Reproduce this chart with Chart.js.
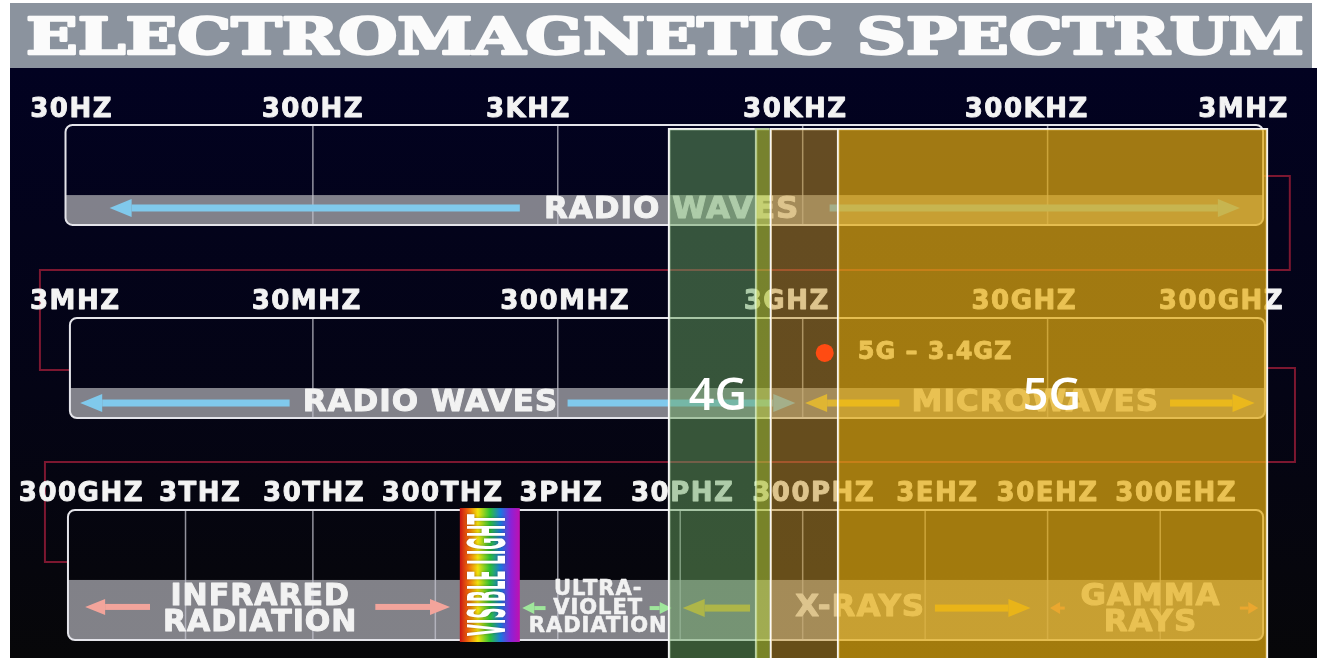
<!DOCTYPE html>
<html>
<head>
<meta charset="utf-8">
<title>Electromagnetic Spectrum</title>
<script src="https://cdn.jsdelivr.net/npm/chart.js@4.4.1/dist/chart.umd.min.js"></script>
<style>
    html, body { margin: 0; padding: 0; background: #ffffff; }
    canvas { display: block; }
</style>
</head>
<body>
<canvas id="spectrumChart" width="1317" height="658"></canvas>
<script>
// x axis unit = one "column" of the drawing: one decade on the bottom row, two decades on the radio rows
const row1Ticks = ['30HZ', '300HZ', '3KHZ', '30KHZ', '300KHZ', '3MHZ'];
const row1TickPos = [0.03, 2.0, 3.76, 5.94, 7.83, 9.6];
const row1Lines = [2, 4, 6, 8];

const row2Ticks = ['3MHZ', '30MHZ', '300MHZ', '3GHZ', '30GHZ', '300GHZ'];
const row2TickPos = [0.06, 1.95, 4.06, 5.87, 7.81, 9.42];
const row2Lines = [2, 4, 6, 8];

const row3Ticks = ['300GHZ', '3THZ', '30THZ', '300THZ', '3PHZ', '30PHZ', '300PHZ', '3EHZ', '30EHZ', '300EHZ'];
const row3TickPos = [0.11, 1.08, 2.01, 3.06, 4.03, 5.02, 6.09, 7.1, 8.0, 9.05];
const row3Lines = [0.96, 2, 3, 4, 5, 6, 7, 8, 8.92];

// mobile network bands laid over the spectrum
const bandNames = ['4G', '4G/5G', '5G low', '5G'];
const bandStart = [4.9, 5.61, 5.73, 6.28];
const bandEnd = [5.61, 5.73, 6.28, 9.8];

const markerLabel = '5G – 3.4GZ';
const markerX = [6.18];
const markerY = [1.167];

const TITLE = 'ELECTROMAGNETIC SPECTRUM';

// picture frame (pixels)
const FRAME = { left: 10, top: 3, titleBottom: 68, titleRight: 1312, titleBase: 54, titleCenter: 665, titleWidth: 1278 };

// row geometry, in scale units (y: row units, reversed)
const rows = [
    { ticks: row1Ticks, pos: row1TickPos, lines: row1Lines, left: -0.02, right: 9.76, labelY: -0.092, top: -0.016, bandTop: 0.348, bottom: 0.503 },
    { ticks: row2Ticks, pos: row2TickPos, lines: row2Lines, left: 0.016, right: 9.775, labelY: 0.906, top: 0.986, bandTop: 1.349, bottom: 1.505 },
    { ticks: row3Ticks, pos: row3TickPos, lines: row3Lines, left: 0, right: 9.76, labelY: 1.899, top: 1.982, bandTop: 2.345, bottom: 2.657 }
];

const regions = [
    { text: ['RADIO WAVES'], x: 4.93, ys: [0.4255], size: 31, color: '#80c9ec', ay: 0.415, arrows: [[3.69, 0.34], [6.22, 9.57]], shaft: 7, head: 22, half: 9 },
    { text: ['RADIO WAVES'], x: 2.96, ys: [1.427], size: 31, color: '#80c9ec', ay: 1.427, arrows: [[1.81, 0.1], [4.08, 5.94]], shaft: 7, head: 22, half: 9 },
    { text: ['MICROWAVES'], x: 7.9, ys: [1.427], size: 31, color: '#f6d43c', ay: 1.427, arrows: [[6.79, 6.02], [9.0, 9.69]], shaft: 7, head: 22, half: 9 },
    { text: ['INFRARED', 'RADIATION'], x: 1.57, ys: [2.433, 2.568], size: 30, color: '#f2a49b', ay: 2.485, arrows: [[0.67, 0.14], [2.51, 3.12]], shaft: 6, head: 20, half: 8 },
    { text: ['ULTRA-', 'VIOLET', 'RADIATION'], x: 4.33, ys: [2.397, 2.491, 2.589], size: 21, color: '#9fe79b', ay: 2.491, arrows: [[3.9, 3.71], [4.75, 4.93]], shaft: 4, head: 12, half: 6 },
    { text: ['X-RAYS'], x: 6.47, ys: [2.491], size: 31, color: '#f2c630', ay: 2.491, arrows: [[5.57, 5.02], [7.08, 7.86]], shaft: 7, head: 22, half: 9 },
    { text: ['GAMMA', 'RAYS'], x: 8.84, ys: [2.433, 2.568], size: 31, color: '#f49a7e', ay: 2.491, arrows: [[8.14, 8.02], [9.57, 9.72]], shaft: 3, head: 10, half: 6 }
];

const visible = { text: 'VISIBLE LIGHT', from: 3.2, to: 3.69 };

const connectors = [
    [[9.76, 0.249], [9.978, 0.249], [9.978, 0.737], [-0.229, 0.737], [-0.229, 1.256], [0.016, 1.256]],
    [[9.775, 1.245], [10.02, 1.245], [10.02, 1.733], [-0.188, 1.733], [-0.188, 2.252], [0, 2.252]]
];

const bandColors = ['rgba(105,165,95,0.5)', 'rgba(175,192,55,0.68)', 'rgba(200,150,40,0.5)', 'rgba(230,172,14,0.7)'];
const bandBorders = ['rgba(255,255,255,0.95)', 'rgba(215,240,190,0.85)', 'rgba(255,255,255,0.95)', 'rgba(255,255,255,0.95)'];
const bandBorderWidths = [
    { top: 2, left: 2, right: 0, bottom: 0 },
    { top: 2, left: 2, right: 0, bottom: 0 },
    { top: 2, left: 2, right: 0, bottom: 0 },
    { top: 2, left: 2, right: 2, bottom: 0 }
];
const bandLabelPos = [{ x: 5.308, y: 1.396 }, null, null, { x: 8.035, y: 1.396 }];

// text with a thin outline in the same colour, the original lettering is heavier than DejaVu Bold
function drawText(ctx, str, x, y, font, color, align = 'center', spacing = '0px', weight = 0) {
    ctx.font = font;
    ctx.fillStyle = color;
    ctx.textAlign = align;
    ctx.textBaseline = 'middle';
    ctx.letterSpacing = spacing;
    if (weight) {
        ctx.strokeStyle = color;
        ctx.lineWidth = weight;
        ctx.lineJoin = 'round';
        ctx.strokeText(str, x, y);
    }
    ctx.fillText(str, x, y);
    ctx.letterSpacing = '0px';
}

function drawArrow(ctx, x1, x2, y, color, shaft, head, half) {
    const dir = Math.sign(x2 - x1);
    const neck = x2 - dir * head;
    ctx.fillStyle = color;
    ctx.fillRect(Math.min(x1, neck), y - shaft / 2, Math.abs(neck - x1), shaft);
    ctx.beginPath();
    ctx.moveTo(x2, y);
    ctx.lineTo(neck, y - half);
    ctx.lineTo(neck, y + half);
    ctx.closePath();
    ctx.fill();
}

const spectrumArt = {
    id: 'spectrumArt',
    beforeDatasetsDraw(chart) {
        const ctx = chart.ctx;
        const X = v => chart.scales.x.getPixelForValue(v);
        const Y = v => chart.scales.y.getPixelForValue(v);
        const W = chart.width, H = chart.height;
        ctx.save();

        // dark field and grey title band
        const bg = ctx.createLinearGradient(0, FRAME.titleBottom, 0, H);
        bg.addColorStop(0, '#020221');
        bg.addColorStop(0.55, '#040415');
        bg.addColorStop(1, '#070709');
        ctx.fillStyle = bg;
        ctx.fillRect(FRAME.left, FRAME.titleBottom, W - FRAME.left, H - FRAME.titleBottom);
        ctx.fillStyle = '#8b939e';
        ctx.fillRect(FRAME.left, FRAME.top, FRAME.titleRight - FRAME.left, FRAME.titleBottom - FRAME.top);

        ctx.save();
        ctx.font = 'bold 50px "DejaVu Serif"';
        const tw = ctx.measureText(TITLE).width;
        ctx.translate(FRAME.titleCenter, FRAME.titleBase);
        ctx.scale(FRAME.titleWidth / tw, 1);
        ctx.textAlign = 'center';
        ctx.textBaseline = 'alphabetic';
        ctx.fillStyle = '#fbfbfb';
        ctx.strokeStyle = '#fbfbfb';
        ctx.lineWidth = 2.5;
        ctx.lineJoin = 'round';
        ctx.strokeText(TITLE, 0, 0);
        ctx.fillText(TITLE, 0, 0);
        ctx.restore();

        // red links between the rows
        ctx.strokeStyle = '#7c1730';
        ctx.lineWidth = 2;
        connectors.forEach(path => {
            ctx.beginPath();
            path.forEach(([px, py], i) => i ? ctx.lineTo(X(px), Y(py)) : ctx.moveTo(X(px), Y(py)));
            ctx.stroke();
        });

        // rows
        rows.forEach(r => {
            const l = X(r.left), rt = X(r.right), t = Y(r.top), b = Y(r.bottom), bt = Y(r.bandTop);
            ctx.save();
            ctx.beginPath();
            ctx.roundRect(l, t, rt - l, b - t, 7);
            ctx.clip();
            ctx.fillStyle = 'rgba(150,150,157,0.86)';
            ctx.fillRect(l, bt, rt - l, b - bt);
            ctx.strokeStyle = 'rgba(195,195,205,0.75)';
            ctx.lineWidth = 1.5;
            r.lines.forEach(v => {
                ctx.beginPath();
                ctx.moveTo(X(v), t);
                ctx.lineTo(X(v), b);
                ctx.stroke();
            });
            ctx.restore();
            ctx.strokeStyle = '#e4e4ea';
            ctx.lineWidth = 2;
            ctx.beginPath();
            ctx.roundRect(l, t, rt - l, b - t, 7);
            ctx.stroke();

            r.ticks.forEach((label, i) => {
                drawText(ctx, label, X(r.pos[i]), Y(r.labelY), 'bold 26px "DejaVu Sans"', '#f3f3f3', 'center', '1.5px', 0.9);
            });
        });

        // visible light strip
        const last = rows[2];
        const vx1 = X(visible.from), vx2 = X(visible.to);
        const vt = Y(last.top - 0.01), vb = Y(last.bottom + 0.01);
        const rainbow = ctx.createLinearGradient(vx1, 0, vx2, 0);
        rainbow.addColorStop(0, '#c81414');
        rainbow.addColorStop(0.14, '#f06a0a');
        rainbow.addColorStop(0.3, '#f2e20c');
        rainbow.addColorStop(0.5, '#2ec234');
        rainbow.addColorStop(0.68, '#1a78e0');
        rainbow.addColorStop(0.85, '#8a22d8');
        rainbow.addColorStop(1, '#c010b0');
        ctx.fillStyle = rainbow;
        ctx.fillRect(vx1, vt, vx2 - vx1, vb - vt);
        ctx.save();
        ctx.translate((vx1 + vx2) / 2, (vt + vb) / 2);
        ctx.rotate(-Math.PI / 2);
        ctx.font = 'bold 52px "DejaVu Sans"';
        const vw = ctx.measureText(visible.text).width;
        ctx.scale((vb - vt - 12) / vw, 1);
        ctx.shadowColor = 'rgba(0,0,0,0.35)';
        ctx.shadowBlur = 3;
        drawText(ctx, visible.text, 0, 2, 'bold 52px "DejaVu Sans"', '#ffffff');
        ctx.restore();

        // band names and arrows
        regions.forEach(g => {
            g.arrows.forEach(([a, b]) => drawArrow(ctx, X(a), X(b), Y(g.ay), g.color, g.shaft, g.head, g.half));
            g.text.forEach((line, i) => {
                drawText(ctx, line, X(g.x), Y(g.ys[i]), `bold ${g.size}px "DejaVu Sans"`, '#f2f2f2', 'center', '1px', g.size > 25 ? 1 : 0.6);
            });
        });

        drawText(ctx, markerLabel, X(markerX[0]) + 33, Y(markerY[0]), 'bold 24px "DejaVu Sans"', '#f4f4f4', 'left', '1px', 0.8);
        ctx.restore();
    },
    afterDatasetsDraw(chart) {
        const ctx = chart.ctx;
        const X = v => chart.scales.x.getPixelForValue(v);
        const Y = v => chart.scales.y.getPixelForValue(v);
        ctx.save();
        bandLabelPos.forEach((p, i) => {
            if (p) drawText(ctx, bandNames[i], X(p.x), Y(p.y), '600 45px "Open Sans"', '#ffffff');
        });
        ctx.restore();
    }
};

const datasets = [{
    type: 'scatter',
    label: markerLabel,
    indexAxis: 'x',
    xAxisID: 'x',
    yAxisID: 'y',
    data: markerX.map((v, i) => ({ x: v, y: markerY[i] })),
    pointRadius: 9,
    pointBackgroundColor: '#ff4b12',
    pointBorderWidth: 0
}];

bandNames.forEach((name, i) => {
    datasets.push({
        type: 'bar',
        label: name,
        indexAxis: 'y',
        xAxisID: 'x',
        yAxisID: 'yBand',
        data: [[bandStart[i], bandEnd[i]]],
        backgroundColor: bandColors[i],
        borderColor: bandBorders[i],
        borderWidth: bandBorderWidths[i],
        borderSkipped: false,
        grouped: false,
        barPercentage: 1,
        categoryPercentage: 1
    });
});

new Chart(document.getElementById('spectrumChart'), {
    type: 'bar',
    data: {
        labels: ['Mobile networks'],
        datasets: datasets
    },
    options: {
        responsive: false,
        animation: false,
        events: [],
        layout: { autoPadding: false, padding: { top: 128, left: 0, right: 0, bottom: 0 } },
        plugins: {
            legend: { display: false },
            tooltip: { enabled: false },
            title: { display: false }
        },
        scales: {
            x: { type: 'linear', axis: 'x', position: 'bottom', offset: false, grace: 0, min: -0.555, max: 10.2, display: false },
            y: { type: 'linear', axis: 'y', position: 'left', offset: false, grace: 0, min: 0, max: 2.75, reverse: true, display: false },
            yBand: { type: 'category', axis: 'y', position: 'left', offset: true, display: false }
        }
    },
    plugins: [spectrumArt]
});
</script>
</body>
</html>
